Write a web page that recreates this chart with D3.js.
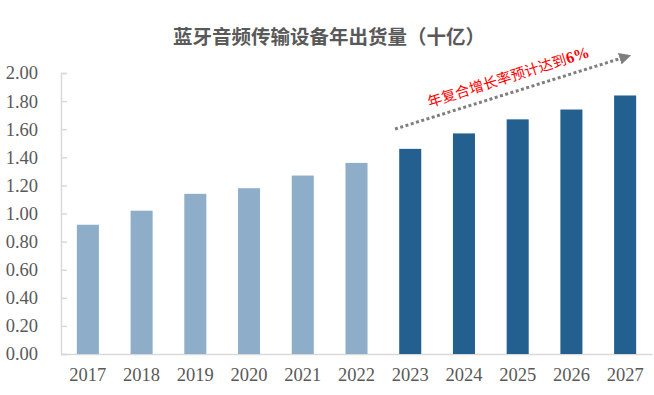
<!DOCTYPE html>
<html>
<head>
<meta charset="utf-8">
<script src="https://cdn.jsdelivr.net/npm/d3@7"></script>
<style>
  body { margin: 0; background: #fff; }
  text { font-family: "Liberation Serif", "Times New Roman", serif; }
</style>
</head>
<body>
<div id="chart"></div>
<script>
// Data
const years = ["2017", "2018", "2019", "2020", "2021", "2022", "2023", "2024", "2025", "2026", "2027"];
const shipments = [0.92, 1.02, 1.14, 1.18, 1.27, 1.36, 1.46, 1.57, 1.67, 1.74, 1.84];
const forecastFrom = "2023";
const yTicks = [0, 0.2, 0.4, 0.6, 0.8, 1.0, 1.2, 1.4, 1.6, 1.8, 2.0];
const title = "蓝牙音频传输设备年出货量（十亿）";
const note = "年复合增长率预计达到";
const noteRate = "6%";

const w = 654;
const h = 395;
const padLeft = 61, padRight = 652, padTop = 73, padBottom = 354;

const svg = d3.select("#chart")
  .append("svg")
  .attr("width", w)
  .attr("height", h);

// Scales
const xScale = d3.scaleBand()
  .domain(years)
  .range([padLeft, padRight])
  .paddingInner(0.59)
  .paddingOuter(0.295);

const yScale = d3.scaleLinear()
  .domain([0, 2])
  .range([padBottom, padTop]);

// Title
svg.append("text")
  .attr("x", 329)
  .attr("y", 44)
  .attr("text-anchor", "middle")
  .style("font-family", "'Noto Sans CJK SC', sans-serif")
  .style("font-size", "19.5px")
  .style("font-weight", "bold")
  .style("fill", "#595959")
  .text(title);

// Y axis (ticks point inward)
const yAxis = d3.axisLeft(yScale)
  .tickValues(yTicks)
  .tickSize(-6)
  .tickPadding(23)
  .tickFormat(d3.format(".2f"));

const gy = svg.append("g")
  .attr("transform", "translate(" + padLeft + ",0)")
  .call(yAxis);
gy.select(".domain").attr("stroke", "#d9d9d9").attr("stroke-width", 1.5);
gy.selectAll(".tick line").attr("stroke", "#d9d9d9").attr("stroke-width", 1.5);
gy.selectAll(".tick text")
  .style("font-size", "18.5px")
  .style("fill", "#595959");

// X axis
const xAxis = d3.axisBottom(xScale).tickSize(0).tickPadding(14);
const gx = svg.append("g")
  .attr("transform", "translate(0," + padBottom + ")")
  .call(xAxis);
gx.select(".domain").attr("stroke", "#d9d9d9").attr("stroke-width", 1.5);
gx.selectAll(".tick text")
  .style("font-size", "18.5px")
  .style("fill", "#595959");

// Bars
const startIdx = years.indexOf(forecastFrom);
svg.selectAll("rect.bar")
  .data(years.map((y, i) => ({ year: y, value: shipments[i], idx: i })))
  .enter()
  .append("rect")
  .attr("class", "bar")
  .attr("x", d => xScale(d.year))
  .attr("y", d => yScale(d.value))
  .attr("width", xScale.bandwidth())
  .attr("height", d => padBottom - yScale(d.value))
  .style("fill", d => d.idx < startIdx ? "#8eadc8" : "#235f8f");

// Growth arrow
const defs = svg.append("defs");
defs.append("marker")
  .attr("id", "arrow")
  .attr("viewBox", "0 0 10 10")
  .attr("refX", 2)
  .attr("refY", 5)
  .attr("markerWidth", 4)
  .attr("markerHeight", 4)
  .attr("orient", "auto")
  .append("path")
  .attr("d", "M0,0 L10,5 L0,10 z")
  .style("fill", "#7f7f7f");

svg.append("line")
  .attr("x1", 395)
  .attr("y1", 129)
  .attr("x2", 622)
  .attr("y2", 58)
  .attr("stroke", "#7f7f7f")
  .attr("stroke-width", 3)
  .attr("stroke-dasharray", "3,2.5")
  .attr("marker-end", "url(#arrow)");

// Growth note
const noteText = svg.append("text")
  .attr("transform", "translate(510,82) rotate(-17.5)")
  .attr("text-anchor", "middle")
  .style("fill", "#ff0000")
  .style("font-size", "14.5px");
noteText.append("tspan")
  .style("font-family", "'Noto Sans CJK SC', sans-serif")
  .text(note);
noteText.append("tspan")
  .style("font-weight", "bold")
  .style("font-size", "16px")
  .text(noteRate);
</script>
</body>
</html>
